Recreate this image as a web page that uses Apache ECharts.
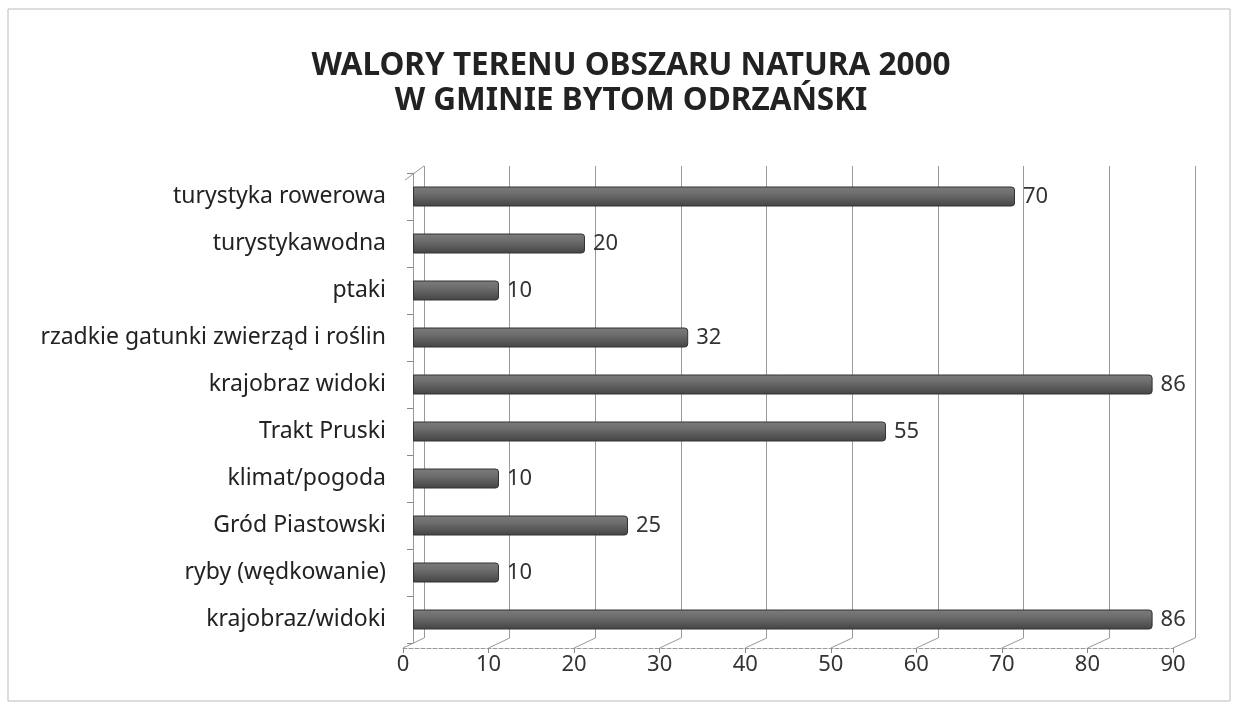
<!DOCTYPE html>
<html>
<head>
<meta charset="utf-8">
<script src="https://cdn.jsdelivr.net/npm/echarts@6/dist/echarts.min.js"></script>
<style>
  html, body { margin: 0; padding: 0; background: #fff; }
  #main { width: 1237px; height: 712px; }
</style>
</head>
<body>
<div id="main"></div>
<script>
// dane z wykresu (od góry do dołu)
var categories = ['turystyka rowerowa', 'turystykawodna', 'ptaki', 'rzadkie gatunki zwierząd i roślin',
  'krajobraz widoki', 'Trakt Pruski', 'klimat/pogoda', 'Gród Piastowski', 'ryby (wędkowanie)', 'krajobraz/widoki'];
var values = [70, 20, 10, 32, 86, 55, 10, 25, 10, 86];
var xTicks = [0, 10, 20, 30, 40, 50, 60, 70, 80, 90];

var myChart = echarts.init(document.getElementById('main'));
var font = 'Noto Sans';

var option = {
  animation: false,
  backgroundColor: '#fff',
  title: {
    text: 'WALORY TERENU OBSZARU NATURA 2000\nW GMINIE BYTOM ODRZAŃSKI',
    left: 626,
    top: 44,
    textAlign: 'center',
    textStyle: { fontFamily: font, fontSize: 31.5, fontWeight: 'bold', color: '#222', lineHeight: 35 }
  },
  grid: [
    { left: 413, top: 173, width: 774, height: 470 },   // słupki
    { left: 424, top: 166, width: 771, height: 472 },   // tylna ściana
    { left: 403, top: 640, width: 770, height: 8 }      // podłoga / oś
  ],
  xAxis: [
    { gridIndex: 0, type: 'value', min: 0, max: 90, interval: 10, show: false },
    {
      gridIndex: 1, type: 'value', min: 0, max: 90, interval: 10,
      axisLine: { show: false }, axisTick: { show: false }, axisLabel: { show: false },
      splitLine: { show: true, lineStyle: { color: '#999', width: 1 } }
    },
    {
      gridIndex: 2, type: 'value', min: 0, max: 90, interval: 10,
      axisLine: { show: true, lineStyle: { color: '#999', type: 'dashed', width: 1 } },
      axisTick: { show: true, length: 5, lineStyle: { color: '#888' } },
      axisLabel: {
        margin: 6, fontFamily: font, fontSize: 22, color: '#333',
        formatter: function (v) { return xTicks.indexOf(v) >= 0 ? String(v) : ''; }
      },
      splitLine: { show: false }
    }
  ],
  yAxis: [
    {
      gridIndex: 0, type: 'category', inverse: true, data: categories, offset: 8,
      axisLine: { show: true, lineStyle: { color: '#999' } },
      axisTick: { show: true, length: 6, lineStyle: { color: '#888' } },
      axisLabel: { margin: 19, fontFamily: font, fontSize: 23, color: '#222' }
    },
    { gridIndex: 1, type: 'value', min: 0, max: 1, show: false },
    { gridIndex: 2, type: 'value', min: 0, max: 1, show: false }
  ],
  series: [
    {
      type: 'bar',
      xAxisIndex: 0, yAxisIndex: 0,
      data: values,
      barWidth: 20,
      itemStyle: {
        color: {
          type: 'linear', x: 0, y: 0, x2: 0, y2: 1,
          colorStops: [
            { offset: 0, color: '#7c7c7c' },
            { offset: 0.35, color: '#6e6e6e' },
            { offset: 1, color: '#444' }
          ]
        },
        borderColor: '#333',
        borderWidth: 1,
        borderRadius: [0, 3, 3, 0]
      },
      label: {
        show: true, position: 'right', distance: 8,
        fontFamily: font, fontSize: 22, color: '#333'
      }
    }
  ]
};
myChart.setOption(option);

// ukośne połączenia podłogi z tylną ścianą (perspektywa 3D)
var frontY = 648, backY = 638;
var deco = [];
xTicks.forEach(function (v) {
  var xf = myChart.convertToPixel({ xAxisIndex: 2 }, v);
  var xb = myChart.convertToPixel({ xAxisIndex: 1 }, v);
  deco.push({
    type: 'line', silent: true,
    shape: { x1: xf, y1: frontY, x2: xb, y2: backY },
    style: { stroke: '#999', lineWidth: 1 }
  });
});
var x0f = myChart.convertToPixel({ xAxisIndex: 2 }, 0);
var x0b = myChart.convertToPixel({ xAxisIndex: 1 }, 0);
deco.push({
  type: 'line', silent: true,
  shape: { x1: x0f + 2, y1: 180, x2: x0b, y2: 166 },
  style: { stroke: '#999', lineWidth: 1 }
});
deco.push({
  type: 'rect', silent: true,
  shape: { x: 8, y: 9, width: 1222, height: 692 },
  style: { fill: 'none', stroke: '#bbb', lineWidth: 1 }
});
myChart.setOption({ graphic: deco });
</script>
</body>
</html>
